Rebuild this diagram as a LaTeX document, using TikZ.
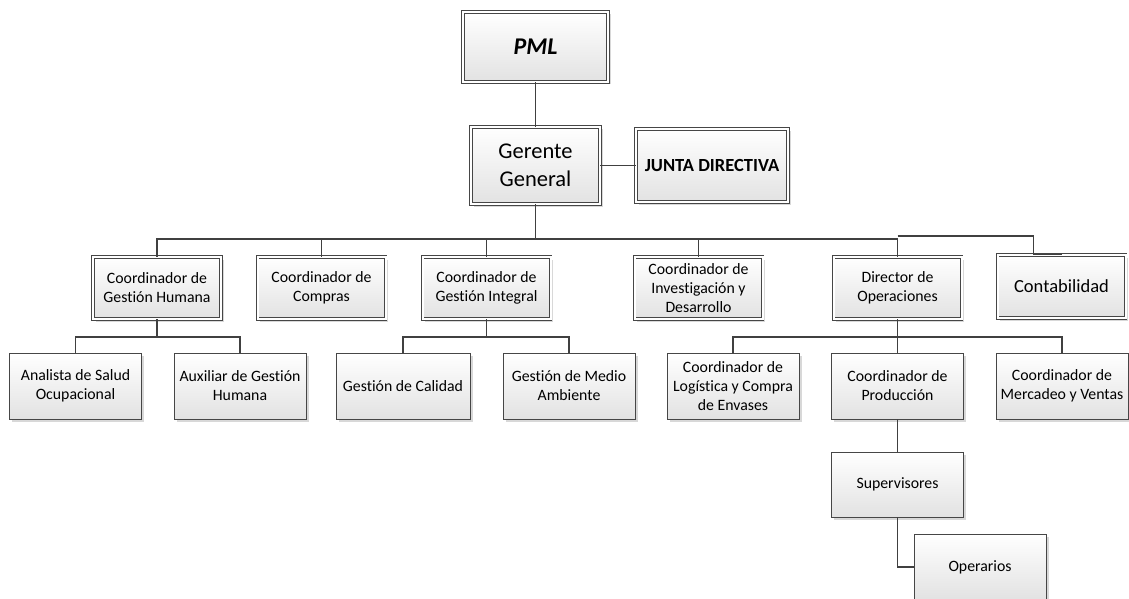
\documentclass[tikz,border=0pt]{standalone}
\usepackage{fontspec}
\setmainfont{Carlito}[Ligatures={NoCommon,NoDiscretionary}]
\usetikzlibrary{positioning,shadows}
\usepackage{xcolor}
\definecolor{ink}{RGB}{64,64,64}
\definecolor{frame}{RGB}{70,70,70}
\definecolor{shade}{RGB}{226,226,226}

\begin{document}
\begin{tikzpicture}[x=1pt, y=-1pt,
  unit/.style={draw=frame, line width=0.8pt, top color=white, bottom color=shade,
    align=center, inner sep=2pt, minimum width=132pt, minimum height=66pt,
    font=\fontsize{15.8}{19}\selectfont,
    drop shadow={shadow xshift=2.5pt, shadow yshift=-2.5pt, fill=black!30, opacity=0.5}},
  head/.style={unit, double=white, double distance=2pt,
    minimum width=128pt, minimum height=62pt},
  link/.style={draw=ink, line width=1.4pt}
]
  \useasboundingbox (0,0) rectangle (1129,599);

  % top of the chart
  \node[head, minimum width=145pt, minimum height=70pt,
    font=\fontsize{24}{28}\selectfont\bfseries\itshape] (pml) at (535.5,47) {PML};
  \node[head, minimum width=129pt, minimum height=77pt,
    font=\fontsize{22.5}{28}\selectfont] (ger) at (535.5,165.5) {Gerente\\General};
  \node[head, minimum width=152pt, minimum height=73pt,
    font=\fontsize{18.5}{22}\selectfont\bfseries] (jd) at (712,165.5) {JUNTA DIRECTIVA};

  % coordinators
  \node[head] (cgh)  at (157,288)   {Coordinador de\\Gestión Humana};
  \node[head] (ccom) at (321.5,288) {Coordinador de\\Compras};
  \node[head] (cgi)  at (486.5,288) {Coordinador de\\Gestión Integral};
  \node[head] (cid)  at (698.5,288) {Coordinador de\\Investigación y\\Desarrollo};
  \node[head] (dops) at (897.5,288) {Director de\\Operaciones};
  \node[head, minimum height=63pt,
    font=\fontsize{18.5}{22}\selectfont] (cont) at (1061.5,286.5) {Contabilidad};

  % staff under the coordinators
  \node[unit] (ana)  at (75.5,386)  {Analista de Salud\\Ocupacional};
  \node[unit] (aux)  at (240,386)   {Auxiliar de Gestión\\Humana};
  \node[unit, minimum width=134pt] (cal) at (403,386) {Gestión de Calidad};
  \node[unit] (amb)  at (569,386)   {Gestión de Medio\\Ambiente};
  \node[unit] (log)  at (733,386)   {Coordinador de\\Logística y Compra\\de Envases};
  \node[unit] (prod) at (897.5,386) {Coordinador de\\Producción};
  \node[unit] (mer)  at (1062,386)  {Coordinador de\\Mercadeo y Ventas};
  \node[unit, minimum height=65pt] (sup) at (897.5,484.5) {Supervisores};
  \node[unit] (ope)  at (980,567)   {Operarios};

  % bus lines
  \coordinate (busA) at (535.5,239);
  \coordinate (kink) at (897.5,236);
  \coordinate (busB) at (157,337);
  \coordinate (busC) at (486.5,337);

  % connectors
  \draw[link] (pml) -- (ger);
  \draw[link] (ger) -- (jd);
  \draw[link] (ger.south) -- (busA);
  \draw[link] (cgh.north) |- (busA) -| (dops.north);
  \draw[link] (busA -| ccom) -- (ccom.north);
  \draw[link] (busA -| cgi) -- (cgi.north);
  \draw[link] (busA -| cid) -- (cid.north);
  \draw[link] (kink) -| ([xshift=-28pt]cont.north) -- (cont.north);
  \draw[link] (cgh.south) -- (busB);
  \draw[link] (ana.north) |- (busB) -| (aux.north);
  \draw[link] (cgi.south) -- (busC);
  \draw[link] (cal.north) |- (busC) -| (amb.north);
  \draw[link] (dops) -- (prod);
  \draw[link] (log.north) |- (dops.south |- busB) -| (mer.north);
  \draw[link] (prod) -- (sup);
  \draw[link] (sup.south) |- (ope.west);
\end{tikzpicture}
\end{document}
